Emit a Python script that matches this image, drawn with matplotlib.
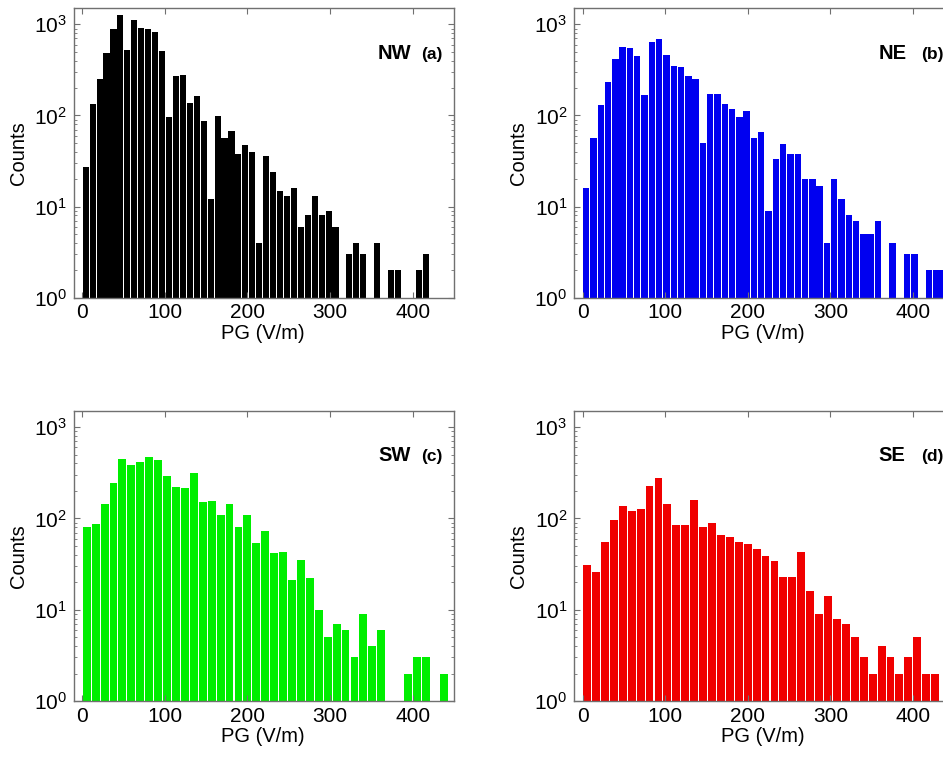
import numpy as np
import matplotlib
matplotlib.use("Agg")
import matplotlib.pyplot as plt
from matplotlib.ticker import LogLocator, NullFormatter

plt.rcParams["font.family"] = ["Liberation Sans", "DejaVu Sans"]
plt.rcParams["mathtext.fontset"] = "custom"
plt.rcParams["mathtext.rm"] = "Liberation Sans"
plt.rcParams["mathtext.it"] = "Liberation Sans:italic"
plt.rcParams["mathtext.bf"] = "Liberation Sans:bold"

# Histogram bin ranges (V/m) and number of bins for each sector
range_nw, nbins_nw = (0.0, 420.0), 50
range_ne, nbins_ne = (0.0, 441.5), 50
range_sw, nbins_sw = (0.0, 443.0), 41
range_se, nbins_se = (0.0, 443.0), 41

# Counts per bin
counts_nw = [27, 133, 249, 488, 889, 1256, 527, 1107, 904, 889,
             824, 505, 96, 268, 275, 138, 162, 86, 12, 99,
             56, 68, 38, 47, 40, 4, 36, 24, 15, 13,
             16, 6, 8, 13, 8, 9, 6, 0, 3, 4,
             3, 0, 4, 0, 2, 2, 0, 0, 2, 3]
counts_ne = [16, 57, 130, 234, 416, 564, 545, 449, 169, 645,
             696, 456, 351, 340, 271, 249, 50, 172, 172, 134,
             117, 97, 113, 57, 66, 9, 33, 49, 38, 38,
             20, 20, 17, 4, 20, 12, 8, 7, 5, 5,
             7, 0, 4, 0, 3, 3, 0, 2, 2, 2]
counts_sw = [80, 86, 144, 242, 443, 381, 415, 470, 432, 291,
             223, 217, 317, 150, 155, 110, 143, 80, 110, 54,
             72, 42, 43, 21, 35, 22, 10, 5, 7, 6,
             3, 9, 4, 6, 0, 0, 2, 3, 3, 0, 2]
counts_se = [31, 26, 55, 95, 138, 121, 128, 225, 275, 145,
             84, 84, 159, 80, 88, 65, 63, 55, 53, 46,
             39, 34, 23, 23, 43, 16, 9, 14, 8, 7,
             5, 3, 2, 4, 3, 2, 3, 5, 2, 2, 0]

sectors = ["NW", "NE", "SW", "SE"]
letters = ["(a)", "(b)", "(c)", "(d)"]
colors = ["#000000", "#0000f0", "#00ee00", "#f00000"]
x_ticks = [0, 100, 200, 300, 400]

panels = [
    (range_nw, nbins_nw, counts_nw),
    (range_ne, nbins_ne, counts_ne),
    (range_sw, nbins_sw, counts_sw),
    (range_se, nbins_se, counts_se),
]

W, H = 943, 757
fig = plt.figure(figsize=(W / 100, H / 100), dpi=100)

# axes rectangles in pixels: left, top, width, height
rects_px = [
    (74.0, 8.3, 380.0, 289.4),
    (574.3, 8.3, 380.0, 289.4),
    (74.0, 411.0, 380.0, 290.0),
    (574.3, 411.0, 380.0, 290.0),
]

frame_color = "#707070"

for i, ((lo, hi), nb, counts) in enumerate(panels):
    l, t, w, h = rects_px[i]
    ax = fig.add_axes([l / W, 1 - (t + h) / H, w / W, h / H])
    edges = np.linspace(lo, hi, nb + 1)
    centers = 0.5 * (edges[:-1] + edges[1:])
    bw = edges[1] - edges[0]
    ax.bar(centers, counts, width=bw * 0.88, color=colors[i],
           edgecolor="none", linewidth=0)
    ax.set_yscale("log")
    ax.set_ylim(1, 1500)
    ax.set_xlim(-10, 450)
    ax.set_xticks(x_ticks)
    ax.yaxis.set_major_locator(LogLocator(base=10, numticks=10))
    ax.yaxis.set_minor_locator(LogLocator(base=10, subs=np.arange(2, 10), numticks=10))
    ax.yaxis.set_minor_formatter(NullFormatter())
    for s in ax.spines.values():
        s.set_color(frame_color)
        s.set_linewidth(1.0)
    ax.tick_params(which="both", direction="in", top=True, right=True,
                   color=frame_color, labelsize=15)
    ax.tick_params(which="major", length=4.5, width=0.8, pad=5)
    ax.tick_params(axis="x", which="major", pad=4)
    ax.tick_params(which="minor", length=2.2, width=0.6)
    ax.set_ylabel("Counts", fontsize=14.5)
    ax.set_xlabel("PG (V/m)", fontsize=14.5)
    ax.yaxis.set_label_coords(-0.122, 0.5)
    ax.xaxis.set_label_coords(0.497, -0.090)
    ax.text(0.80, 0.845, sectors[i], transform=ax.transAxes, fontsize=14.5,
            fontweight="bold", va="center", ha="left")
    ax.text(0.913, 0.842, letters[i], transform=ax.transAxes, fontsize=12.5,
            fontweight="bold", va="center", ha="left")

fig.savefig("out.png", dpi=100)
